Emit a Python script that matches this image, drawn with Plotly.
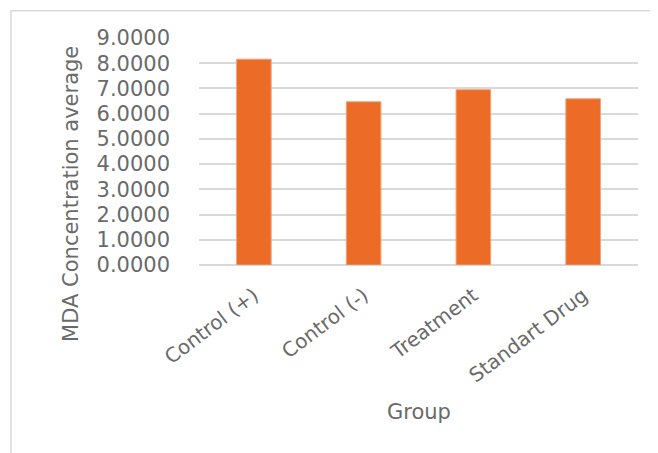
import plotly.graph_objects as go

categories = ["Control (+)", "Control (-)", "Treatment", "Standart Drug"]
values = [8.16, 6.47, 6.95, 6.59]
y_ticks = [0, 1, 2, 3, 4, 5, 6, 7, 8, 9]
y_tick_labels = ["%.4f" % v for v in y_ticks]

OFF = 8  # page body margin
W, H = 658 - OFF, 453 - OFF
# plot area in screen coordinates
SL, ST, SR, SB = 199, 37.7, 638, 265.3
L, T = SL - OFF, ST - OFF
R, B = W - (SR - OFF), H - (SB - OFF)
pw = SR - SL
ph = SB - ST

def px(sx):
    return (sx - SL) / pw

def py(sy):
    return (SB - sy) / ph

fig = go.Figure(go.Bar(
    x=categories, y=values,
    marker=dict(color="#EC6B26", line=dict(color="#F3A077", width=1)),
    width=0.315,
))

font_family = "DejaVu Sans"
gray = "#6a6a6a"

fig.update_layout(
    width=W, height=H,
    margin=dict(l=L, r=R, t=T, b=B, autoexpand=False),
    paper_bgcolor="white", plot_bgcolor="white",
    showlegend=False,
    font=dict(family=font_family, color=gray),
    xaxis=dict(
        tickangle=-37, tickfont=dict(size=20, color=gray, family=font_family),
        showgrid=False, showline=False, zeroline=False, ticks="",
        ticklabelstandoff=14, automargin=False,
    ),
    yaxis=dict(
        range=[0, 9], tickvals=y_ticks, ticktext=y_tick_labels,
        tickfont=dict(size=21, color=gray, family=font_family),
        showgrid=True, gridcolor="#d9d9d9", gridwidth=1.5,
        zeroline=True, zerolinecolor="#d9d9d9", zerolinewidth=1.5,
        showline=False, ticks="", ticklabelstandoff=28, automargin=False,
    ),
    annotations=[
        dict(text="MDA Concentration average", xref="paper", yref="paper",
             x=px(71), y=py(194), textangle=-90, showarrow=False,
             xanchor="center", yanchor="middle",
             font=dict(size=21, color=gray, family=font_family)),
        dict(text="Group", xref="paper", yref="paper",
             x=0.5, y=py(413), showarrow=False,
             xanchor="center", yanchor="middle",
             font=dict(size=21, color=gray, family=font_family)),
    ],
    shapes=[
        dict(type="rect", xref="paper", yref="paper",
             x0=px(11), y0=py(480), x1=px(690), y1=py(10.5),
             line=dict(color="#d9d9d9", width=1.5), fillcolor="rgba(0,0,0,0)",
             layer="below"),
    ],
)

fig.write_html("out.html")
